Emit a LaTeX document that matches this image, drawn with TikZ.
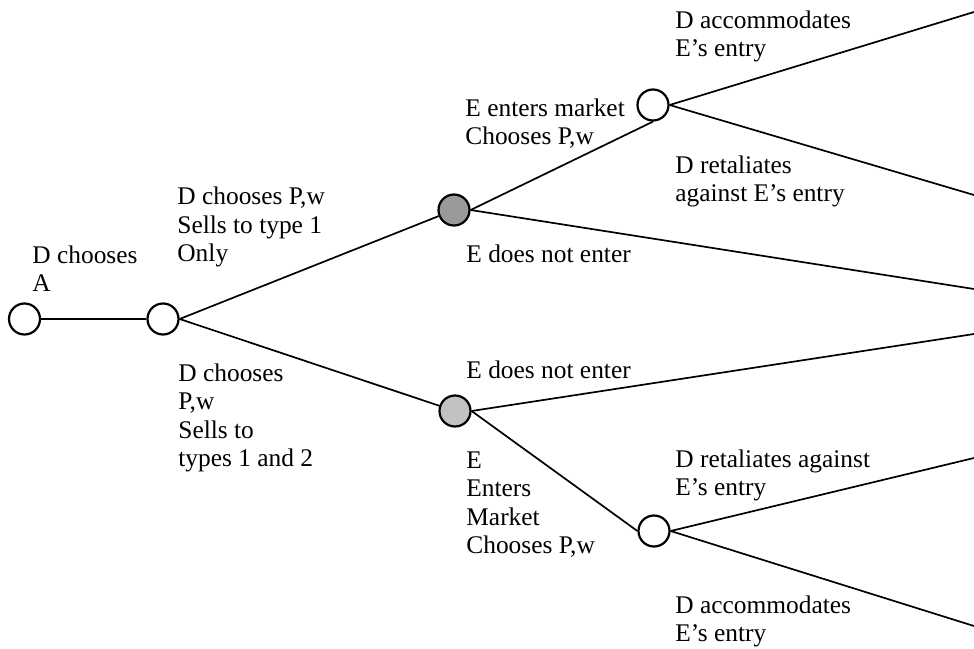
\documentclass[tikz,border=0pt]{standalone}
\usepackage{fontspec}
\setmainfont{Liberation Serif}
\definecolor{greyA}{gray}{0.6}
\definecolor{greyB}{gray}{0.76}
\begin{document}
\begin{tikzpicture}[x=0.5pt,y=-0.5pt,
  dnode/.style={circle,draw,line width=1.1pt,minimum size=15.5pt,inner sep=0pt,fill=white},
  enodeA/.style={dnode,fill=greyA},
  enodeB/.style={dnode,fill=greyB},
  edge/.style={line width=0.85pt},
  lab/.style={anchor=base west,inner sep=0pt,align=left,yshift=-0.8pt,font=\fontsize{12.7}{14.2}\selectfont}]
\useasboundingbox (0,0) rectangle (974,648);
% free end points at the right edge
\coordinate (t1) at (974,12);
\coordinate (t2) at (974,195);
\coordinate (t3) at (974,289);
\coordinate (b3) at (974,334);
\coordinate (b1) at (974,458);
\coordinate (b2) at (974,626);
% nodes
\node[dnode] (r) at (24.5,319) {};
\node[dnode] (n1) at (163,319) {};
\node[enodeA] (gA) at (454,210) {};
\node[enodeB] (gB) at (455,411) {};
\node[dnode] (dA) at (653,105) {};
\node[dnode] (dB) at (654,531) {};
% connectors
\draw[edge] (r) -- (n1);
\draw[edge] (n1.east) -- (gA);
\draw[edge] (n1.east) -- (gB);
\draw[edge] (gA.east) -- (dA.south);
\draw[edge] (gA.east) -- (t3);
\draw[edge] (dA.east) -- (t1);
\draw[edge] (dA.east) -- (t2);
\draw[edge] (gB.east) -- (b3);
\draw[edge] (gB.east) -- (dB.west);
\draw[edge] (dB.east) -- (b1);
\draw[edge] (dB.east) -- (b2);
% labels (anchored at the baseline of their last line)
\node[lab] (l1) at (32,290) {D chooses\\A};
\node[lab] (l2) at (177,260) {D chooses P,w\\Sells to type 1\\Only};
\node[lab] (l3) at (178,465) {D chooses\\P,w\\Sells to\\types 1 and 2};
\node[lab] (l4) at (465,143) {E enters market\\Chooses P,w};
\node[lab] (l5) at (466,261) {E does not enter};
\node[lab] (l6) at (466,377) {E does not enter};
\node[lab] (l7) at (466,552) {E\\Enters\\Market\\Chooses P,w};
\node[lab] (l8) at (675,55) {D accommodates\\E’s entry};
\node[lab] (l9) at (675,200) {D retaliates\\against E’s entry};
\node[lab] (l10) at (675,494) {D retaliates against\\E’s entry};
\node[lab] (l11) at (675,640) {D accommodates\\E’s entry};
\end{tikzpicture}
\end{document}
